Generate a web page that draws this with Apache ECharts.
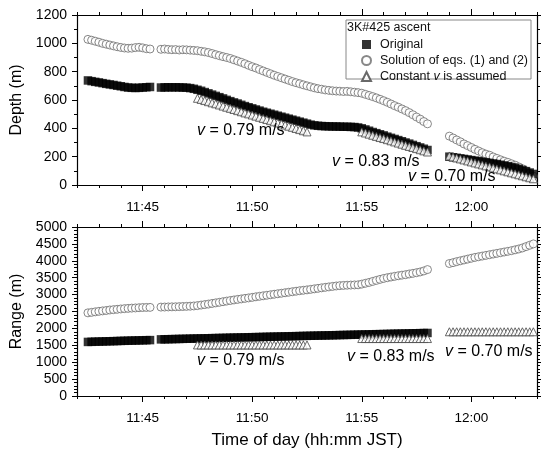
<!DOCTYPE html>
<html><head><meta charset="utf-8">
<script src="https://cdn.jsdelivr.net/npm/echarts@6/dist/echarts.min.js"></script>
<style>html,body{margin:0;padding:0;background:#fff}#c{width:541px;height:450px}</style>
</head><body><div id="c"></div>
<script>
const FONT = '"Liberation Sans", Arial, sans-serif';
const STEP_SEC = 10; // sampling interval of the records

// segment start times
const seg1Start = '11:42:30';
const seg2Start = '11:45:50';
const seg3Start = '11:59:00';
const triAStart = '11:47:30';
const triBStart = '11:55:00';
const triCStart = '11:59:00';

const xMajorTicks = ['11:45', '11:50', '11:55', '12:00'];
const xRange = ['11:42', '12:03'];

// ---------- Depth (m) ----------
const depthOrig1 = [738,733,728,724,719,714,710,706,701,697,692,688,686,685,686,688,690,692];
const depthOrig2 = [688,689,690,689,690,689,688,687,684,679,672,665,656,647,638,629,620,611,601,592,583,575,566,557,549,541,533,525,517,510,503,496,489,482,475,468,461,454,447,440,433,426,421,418,416,415,414,413,413,412,411,411,410,409,406,400,392,383,374,366,358,350,341,333,325,317,309,300,292,283,274,265,256,247];
const depthOrig3 = [200,196,192,188,184,180,176,172,168,164,160,156,152,148,143,138,133,127,121,114,106,98,88,78];

const depthSol1 = [1028,1022,1015,1008,1000,994,988,982,976,971,967,965,966,970,972,968,962,960];
const depthSol2 = [958,960,957,955,956,953,955,954,952,950,948,944,940,935,928,920,913,906,900,893,884,875,866,856,845,835,826,815,805,795,785,775,766,757,748,739,730,722,715,707,700,693,686,680,676,671,668,665,663,662,660,661,658,655,652,648,640,632,624,615,605,595,584,572,560,549,537,525,511,496,480,465,448,432];
const depthSol3 = [345,332,318,305,290,278,265,252,240,228,218,210,198,188,178,168,160,150,140,128,115,100,82,62];

const depthConstA = [612,604,596,588,580,573,565,557,549,541,533,525,517,509,502,494,486,478,470,462,454,446,438,431,423,415,407,399,391,383,375];
const depthConstB = [375,367,359,351,343,335,328,320,312,304,296,288,280,272,265,257,249,241,233];
const depthConstC = [205,198,191,184,177,170,163,156,149,142,135,128,121,114,107,100,93,86,79,72,65,58,51,44];

// ---------- Range (m) ----------
const rangeOrig1 = [1600,1603,1607,1610,1613,1617,1620,1623,1626,1630,1633,1636,1639,1642,1645,1648,1651,1654];
const rangeOrig2 = [1675,1678,1680,1683,1686,1688,1691,1693,1696,1699,1701,1704,1706,1709,1712,1714,1717,1719,1722,1725,1727,1730,1732,1735,1738,1740,1743,1745,1748,1751,1753,1756,1758,1761,1764,1766,1769,1771,1774,1777,1779,1782,1784,1787,1790,1792,1795,1797,1800,1803,1805,1808,1810,1813,1816,1818,1821,1823,1826,1829,1831,1834,1836,1839,1842,1844,1847,1849,1852,1855,1857,1860,1862,1865];

const rangeSol1 = [2460,2475,2490,2505,2518,2530,2545,2555,2565,2575,2585,2592,2600,2605,2612,2618,2620,2622];
const rangeSol2 = [2630,2632,2635,2638,2640,2644,2648,2652,2657,2664,2675,2690,2705,2720,2738,2755,2772,2790,2808,2825,2842,2858,2872,2888,2902,2918,2935,2950,2965,2980,2995,3010,3025,3040,3055,3070,3085,3100,3115,3128,3140,3155,3170,3185,3200,3215,3228,3242,3255,3265,3272,3278,3282,3286,3290,3310,3335,3360,3390,3420,3450,3478,3500,3520,3540,3558,3575,3590,3610,3628,3648,3670,3700,3740];
const rangeSol3 = [3920,3945,3975,4000,4025,4050,4075,4100,4120,4140,4160,4180,4200,4220,4240,4260,4280,4300,4325,4350,4380,4420,4460,4500];

const rangeConstA = [1510,1510,1510,1510,1510,1510,1510,1510,1510,1510,1510,1510,1510,1510,1510,1510,1510,1510,1510,1510,1510,1510,1510,1510,1510,1510,1510,1510,1510,1510,1510];
const rangeConstB = [1700,1700,1700,1700,1700,1700,1700,1700,1700,1700,1700,1700,1700,1700,1700,1700,1700,1700,1700];
const rangeConstC = [1900,1900,1900,1900,1900,1900,1900,1900,1900,1900,1900,1900,1900,1900,1900,1900,1900,1900,1900,1900,1900,1900,1900,1900];

const NAME_ORIG = 'Original';
const NAME_SOL = 'Solution of eqs. (1) and (2)';
const NAME_CONST = 'Constant v is assumed';

// minutes after 11:00
function toMin(s) {
  const p = s.split(':').map(Number);
  return p[0] * 60 + p[1] + (p[2] || 0) / 60 - 660;
}
function fmtTime(v) {
  const t = Math.round(v) + 660;
  const h = Math.floor(t / 60), m = t % 60;
  return h + ':' + (m < 10 ? '0' : '') + m;
}
function pts(start, vals) {
  const t0 = toMin(start);
  return vals.map((v, i) => [t0 + i * STEP_SEC / 60, v]);
}

const X_MIN = toMin(xRange[0]), X_MAX = toMin(xRange[1]);
const majorVals = xMajorTicks.map(toMin);

function xAxes(gridIndex) {
  const base = { type: 'value', gridIndex, min: X_MIN, max: X_MAX, interval: 1, splitLine: { show: false } };
  const line = { show: true, lineStyle: { color: '#000', width: 1.2 } };
  return [
    Object.assign({}, base, {
      position: 'bottom', axisLine: line,
      axisTick: { show: true, inside: false, length: 3, lineStyle: { color: '#000' } },
      axisLabel: { show: true, margin: 15, fontSize: 13.5, color: '#000', fontFamily: FONT,
        formatter: v => (majorVals.some(m => Math.abs(m - v) < 1e-6) ? fmtTime(v) : '') },
      name: gridIndex === 1 ? 'Time of day (hh:mm JST)' : '',
      nameLocation: 'middle', nameGap: 36,
      nameTextStyle: { fontSize: 17, color: '#000', fontFamily: FONT }
    }),
    Object.assign({}, base, {
      position: 'bottom', axisLine: { show: false },
      axisTick: { show: true, inside: false, length: 6, customValues: majorVals, lineStyle: { color: '#000' } },
      axisLabel: { show: false }
    }),
    Object.assign({}, base, {
      position: 'top', axisLine: line,
      axisTick: { show: true, inside: false, length: 3, lineStyle: { color: '#000' } },
      axisLabel: { show: false }
    }),
    Object.assign({}, base, {
      position: 'top', axisLine: { show: false },
      axisTick: { show: true, inside: false, length: 6, customValues: majorVals, lineStyle: { color: '#000' } },
      axisLabel: { show: false }
    })
  ];
}

function yAxes(gridIndex, max, interval, minorSplit, name) {
  const base = {
    type: 'value', gridIndex, min: 0, max, interval,
    splitLine: { show: false },
    axisLine: { show: true, lineStyle: { color: '#000', width: 1.2 } },
    axisTick: { show: true, inside: false, length: 5, lineStyle: { color: '#000' } },
    minorTick: { show: true, splitNumber: minorSplit, length: 3, lineStyle: { color: '#000' } }
  };
  return [
    Object.assign({}, base, {
      position: 'left',
      axisLabel: { show: true, margin: 10, fontSize: 14, color: '#000', fontFamily: FONT, formatter: v => String(v) },
      name, nameLocation: 'middle', nameGap: 47,
      nameTextStyle: { fontSize: 16, color: '#000', fontFamily: FONT }
    }),
    Object.assign({}, base, { position: 'right', axisLabel: { show: false } })
  ];
}

const sqStyle = { symbol: 'rect', symbolSize: 8.5, itemStyle: { color: '#000' } };
const ciStyle = { symbol: 'circle', symbolSize: 8, itemStyle: { color: '#fff', borderColor: '#6a6a6a', borderWidth: 1 } };
const trStyle = { symbol: 'triangle', symbolSize: 8, itemStyle: { color: '#fff', borderColor: '#444', borderWidth: 1 } };

function sc(name, style, data, xi, yi) {
  return Object.assign({ type: 'scatter', name, data, xAxisIndex: xi, yAxisIndex: yi, animation: false, silent: true }, style);
}

const series = [
  // top panel (depth)
  sc(NAME_SOL, ciStyle, [].concat(pts(seg1Start, depthSol1), pts(seg2Start, depthSol2), pts(seg3Start, depthSol3)), 0, 0),
  sc(NAME_ORIG, sqStyle, [].concat(pts(seg1Start, depthOrig1), pts(seg2Start, depthOrig2), pts(seg3Start, depthOrig3)), 0, 0),
  sc(NAME_CONST, trStyle, [].concat(pts(triAStart, depthConstA), pts(triBStart, depthConstB), pts(triCStart, depthConstC)), 0, 0),
  // bottom panel (range)
  sc(NAME_SOL, ciStyle, [].concat(pts(seg1Start, rangeSol1), pts(seg2Start, rangeSol2), pts(seg3Start, rangeSol3)), 4, 2),
  sc(NAME_ORIG, sqStyle, [].concat(pts(seg1Start, rangeOrig1), pts(seg2Start, rangeOrig2)), 4, 2),
  sc(NAME_CONST, trStyle, [].concat(pts(triAStart, rangeConstA), pts(triBStart, rangeConstB), pts(triCStart, rangeConstC)), 4, 2)
];

const vRich = {
  i: { fontStyle: 'italic', fontSize: 16, fontFamily: FONT, fill: '#000', color: '#000' },
  n: { fontSize: 16, fontFamily: FONT, fill: '#000', color: '#000' }
};
function vText(x, y, str) {
  return { type: 'text', x, y, z: 10, silent: true,
    style: { text: '{i|v}{n| ' + str + '}', rich: vRich, verticalAlign: 'middle', align: 'left' } };
}

const option = {
  backgroundColor: '#fff',
  animation: false,
  textStyle: { fontFamily: FONT },
  grid: [
    { left: 77, top: 15, width: 460, height: 170 },
    { left: 77, top: 227, width: 460, height: 170 }
  ],
  xAxis: xAxes(0).concat(xAxes(1)),
  yAxis: yAxes(0, 1200, 200, 2, 'Depth (m)').concat(yAxes(1, 5000, 500, 5, 'Range (m)')),
  legend: {
    orient: 'vertical', left: 356, top: 33, itemWidth: 9, itemHeight: 9, itemGap: 3,
    selectedMode: false, z: 6,
    data: [NAME_ORIG, NAME_SOL, NAME_CONST],
    textStyle: { fontSize: 12.5, color: '#111', fontFamily: FONT, padding: [0, 0, 0, 4],
      rich: { n: { fontSize: 12.5, color: '#111', fontFamily: FONT },
              i: { fontSize: 12.5, color: '#111', fontFamily: FONT, fontStyle: 'italic' } } },
    formatter: name => name === NAME_CONST ? '{n|Constant }{i|v}{n| is assumed}' : name
  },
  graphic: [
    { type: 'rect', z: 1, silent: true, shape: { x: 346, y: 20, width: 185, height: 59 },
      style: { fill: '#fff', stroke: '#888', lineWidth: 1 } },
    { type: 'text', z: 6, silent: true, x: 347, y: 28,
      style: { text: '3K#425 ascent', fontSize: 12.5, fontFamily: FONT, fill: '#111', verticalAlign: 'middle' } },
    vText(197, 131, '= 0.79 m/s'),
    vText(332, 162, '= 0.83 m/s'),
    vText(408, 177, '= 0.70 m/s'),
    vText(197, 361, '= 0.79 m/s'),
    vText(347, 357, '= 0.83 m/s'),
    vText(445, 352, '= 0.70 m/s')
  ],
  series
};

const chart = echarts.init(document.getElementById('c'), null, { renderer: 'canvas' });
chart.setOption(option);
</script>
</body></html>
